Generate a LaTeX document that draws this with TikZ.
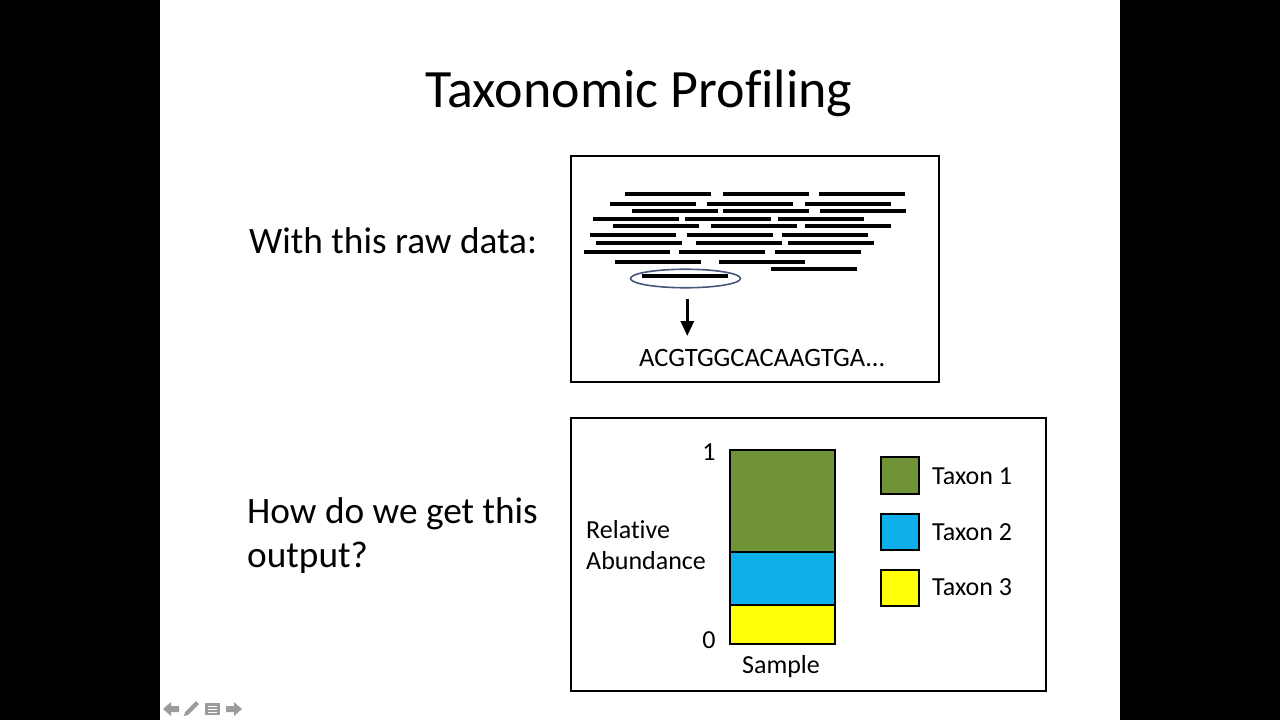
\documentclass[tikz,border=0pt]{standalone}
\usepackage{fontspec}
\setmainfont[Ligatures=CommonOff]{Carlito}
\usetikzlibrary{arrows.meta,shapes.geometric,calc}

\definecolor{taxgreen}{HTML}{6F9336}
\definecolor{taxblue}{HTML}{0EB0EC}
\definecolor{taxyellow}{HTML}{FFFF0A}
\definecolor{selblue}{HTML}{46587A}
\definecolor{navgray}{HTML}{9C9C9C}

\begin{document}
\begin{tikzpicture}[x=1pt, y=-1pt, line join=miter,
    frame/.style={draw=black, line width=1.6pt},
    read/.style={line width=3.3pt},
    bar/.style={draw=black, line width=2pt},
    title/.style={font=\fontsize{54}{60}\selectfont, inner sep=0pt},
    big/.style={font=\fontsize{37.3}{44}\selectfont, inner sep=0pt},
    chart/.style={font=\fontsize{26}{30}\selectfont, inner sep=0pt}]

  %--- Screen and slide ----------------------------------------------------
  \fill[black] (0,0) rectangle (1280,720);
  \fill[white] (160,0) rectangle (1120,720);

  %--- Title ---------------------------------------------------------------
  \node[title, anchor=base] (ttl) at (639,107) {Taxonomic Profiling};

  %--- Questions on the left ----------------------------------------------
  \node[big, anchor=base west] (rawq)  at (249,253) {With this raw data:};
  \node[big, anchor=base west] (howq1) at (247,523) {How do we get this};
  \node[big, anchor=base west] (howq2) at (247,567) {output?};

  %--- Raw data box --------------------------------------------------------
  \draw[frame] (571,156) rectangle (939,382);

  % reads: y / left end, each 86 long
  \foreach \y/\x in {194/625, 194/723, 194/819,
                     204/610, 204/707, 204/805,
                     211/632, 211/723, 211/820,
                     219/593, 219/685, 219/778,
                     226/613, 226/711, 226/805,
                     235/590, 235/687, 235/782,
                     243/596, 243/696, 243/788,
                     252/584, 252/679, 252/775,
                     262/615, 262/719,
                     269/771,
                     276/642}
    \draw[read] (\x,\y) -- ++(86,0);

  \node[draw=selblue, line width=1.6pt, ellipse, minimum width=110,
        minimum height=18.5, inner sep=0pt] (sel) at (685.5,278.5) {};

  \coordinate (arrS) at (687.3,299);
  \coordinate (arrE) at (687.3,336);
  \draw[line width=3pt, -{Triangle[length=15pt, width=13pt]}] (arrS) -- (arrE);

  \node[chart, font=\fontsize{26.5}{30}\selectfont, anchor=base west]
        (seq) at (639,366) {ACGTGGCACAAGTGA...};

  %--- Output box ----------------------------------------------------------
  \draw[frame] (571,418) rectangle (1046,691);

  % stacked bar
  \draw[bar, fill=taxgreen]  (730,450) rectangle (835,552);
  \draw[bar, fill=taxblue]   (730,552) rectangle (835,605);
  \draw[bar, fill=taxyellow] (730,605) rectangle (835,644);

  \node[chart, anchor=base] (one)  at (709,460) {1};
  \node[chart, anchor=base] (zero) at (709,648) {0};
  \node[chart, anchor=base west] (rel) at (586,538) {Relative};
  \node[chart, anchor=base west] (abu) at (586,569) {Abundance};
  \node[chart, anchor=base] (smp) at (781,673) {Sample};

  % legend
  \draw[bar, fill=taxgreen]  (881,457) rectangle (919,494);
  \draw[bar, fill=taxblue]   (881,514) rectangle (919,550);
  \draw[bar, fill=taxyellow] (881,570) rectangle (919,606);
  \node[chart, anchor=base west] (tx1) at (932,484) {Taxon 1};
  \node[chart, anchor=base west] (tx2) at (932,540) {Taxon 2};
  \node[chart, anchor=base west] (tx3) at (932,595) {Taxon 3};

  %--- Navigation icons ----------------------------------------------------
  \fill[navgray] (163,709) -- (171,702) -- (171,706) -- (179,706)
        -- (179,712) -- (171,712) -- (171,716) -- cycle;
  \fill[navgray] (184,716) -- (185,712) -- (196,701) -- (199,704)
        -- (188,715) -- cycle;
  \fill[navgray] (205,703) rectangle (220,715);
  \foreach \yy in {706,709,712}
    \draw[white, line width=1pt] (208,\yy) -- (217,\yy);
  \fill[navgray] (242,709) -- (234,702) -- (234,706) -- (226,706)
        -- (226,712) -- (234,712) -- (234,716) -- cycle;

\end{tikzpicture}
\end{document}
